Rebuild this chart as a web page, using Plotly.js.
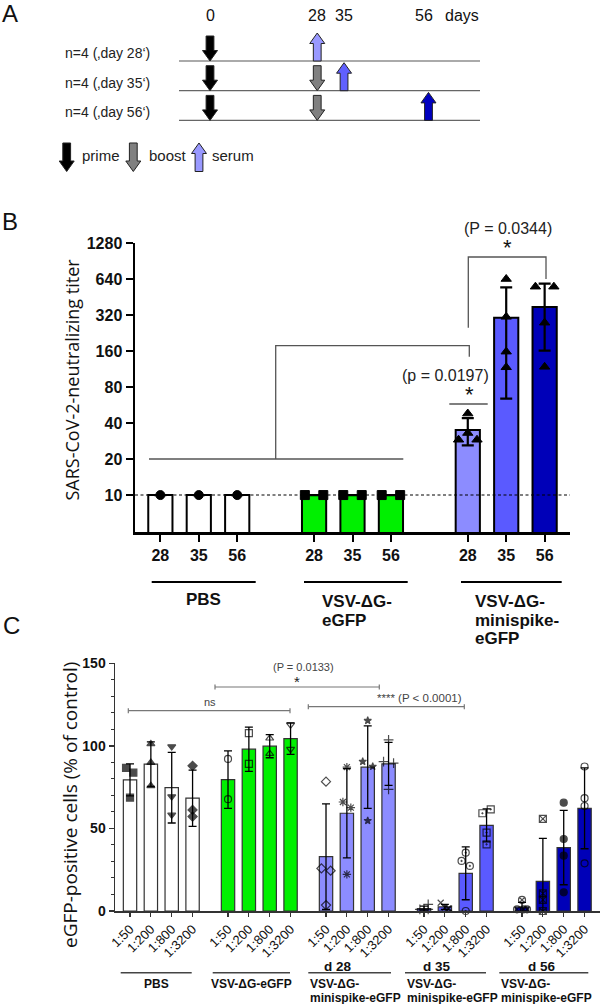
<!DOCTYPE html>
<html><head><meta charset="utf-8">
<script src="https://cdn.plot.ly/plotly-3.0.1.min.js"></script>
<style>html,body{margin:0;padding:0;background:#fff}</style>
</head><body><div id="chart" style="width:601px;height:1004px"></div>
<script>
// ===== DATA =====
// Panel A: schedule
const aDayTicks = [0, 28, 35, 56];
const aRowLabels = ['n=4 (‚day 28‘)', 'n=4 (‚day 35‘)', 'n=4 (‚day 56‘)'];
const aBoostDay = [null, 28, 28];
const aSerumDay = [28, 35, 56];

// Panel B: neutralizing titers
const bDays = ['28', '35', '56'];
const bGroups = ['PBS', 'VSV-ΔG-eGFP', 'VSV-ΔG-minispike-eGFP'];
const bTiter = [[10, 10, 10], [10, 10, 10], [35, 304, 373]];
const bSD = [[0, 0, 0], [0, 0, 0], [9, 240, 212]];
const bPoints = [
  [[10], [10], [10]],
  [[10, 10], [10, 10], [10, 10]],
  [[29, 29, 33, 48], [640, 309, 158, 117], [552, 552, 276, 118]]
];
const bJitter = [
  [[0], [0], [0]],
  [[-0.24, 0.24], [-0.24, 0.24], [-0.24, 0.24]],
  [[-0.24, 0.24, 0, 0], [0, 0, 0, 0], [-0.24, 0.24, 0, 0]]
];

// Panel C: eGFP-positive cells
const cDilutions = ['1:50', '1:200', '1:800', '1:3200'];
const cGroups = ['PBS', 'VSV-ΔG-eGFP', 'd 28', 'd 35', 'd 56'];
const cMean = [
  [79.4, 88.9, 74.7, 68.3],
  [79.6, 98.0, 99.8, 104.4],
  [32.9, 59.2, 87.1, 89.1],
  [1.5, 2.5, 22.8, 51.9],
  [2.4, 18.0, 38.4, 62.2]
];
const cSD = [
  [9.7, 13.5, 21.4, 17.0],
  [17.4, 13.4, 7.0, 9.5],
  [32.0, 27.0, 25.0, 13.0],
  [1.5, 1.5, 16.0, 10.0],
  [2.8, 26.0, 22.5, 24.5]
];
const cPoints = [
  [[86.7, 83.8, 68.7], [101.2, 89.9, 75.8], [99.6, 69.3, 58.2], [87.9, 61.2, 57.2]],
  [[92.1, 67.7], [107.7, 89.1], [104.6, 95.3], [112.7, 98.0]],
  [[78.3, 25.8, 24.4, 3.6], [87.1, 66.0, 62.6, 22.2], [115.3, 90.5, 87.5, 54.7], [103.6, 90.5, 89.5, 73.7]],
  [[1, 1, 1, 4], [5, 2, 1.5, 1.5], [35.3, 30.3, 27.3, 0], [59.2, 61.6, 47.5, 40.4]],
  [[6.7, 1, 1, 1], [55.8, 10.7, 6.7, 0], [65.6, 43.6, 33.5, 11.3], [87.5, 68.3, 63.6, 28.9]]
];
const cJitter = [
  [[-0.19, 0.16, 0], [0, 0, 0], [0, 0, 0], [0, 0, 0]],
  [[0, 0], [0, 0], [0, 0], [0, 0]],
  [[0, -0.22, 0.22, 0], [0, -0.19, 0.19, 0], [0, -0.24, 0.24, 0], [0, -0.24, 0.24, 0]],
  [[-0.2, 0, 0.2, 0.2], [-0.2, 0, 0.15, 0.2], [0, -0.2, 0.2, 0], [-0.2, 0.2, 0, 0]],
  [[0, -0.24, 0.08, 0.24], [0, 0, 0, 0], [0, 0, 0, 0], [0, 0, 0, 0]]
];

// ===== STYLE =====
const bColors = [['#ffffff', '#ffffff', '#ffffff'], ['#00f000', '#00f000', '#00f000'], ['#8c8cff', '#5a5aff', '#0000b8']];
const bSymbols = ['circle', 'square', 'triangle-up'];
const cColors = ['#ffffff', '#00f000', '#8c8cff', '#5a5aff', '#0000b8'];
const cSymbols = [
  ['square', 'triangle-up', 'triangle-down', 'diamond'],
  ['circle-open', 'square-open', 'triangle-up-open', 'triangle-down-open'],
  ['diamond-open', 'asterisk-open', 'star', 'cross-thin-open'],
  ['cross-thin-open', 'x-thin-open', 'circle-open-dot', 'square-open-dot'],
  ['circle-x-open', 'square-x-open', 'circle', 'circle-open']
];
const cSymbolSize = {'star': 5.5, 'asterisk-open': 7, 'cross-thin-open': 7, 'x-thin-open': 6};

const W = 601, H = 1004;
const px = x => x / W;
const py = y => 1 - y / H;
const FONT = 'Liberation Sans, Arial, sans-serif';
const shapes = [], ann = [];

function seg(x0, y0, x1, y1, color, width, dash) {
  shapes.push({type: 'line', xref: 'paper', yref: 'paper', x0: px(x0), y0: py(y0), x1: px(x1), y1: py(y1),
    line: {color: color, width: width, dash: dash || 'solid'}});
}
function pathPx(pts, color, width, fill) {
  const d = pts.map((p, i) => (i ? 'L' : 'M') + px(p[0]).toFixed(5) + ',' + py(p[1]).toFixed(5)).join(' ');
  shapes.push({type: 'path', xref: 'paper', yref: 'paper', path: d + (fill ? ' Z' : ''),
    fillcolor: fill || 'rgba(0,0,0,0)', line: {color: color, width: width}});
}
function txt(x, y, text, size, o) {
  o = o || {};
  ann.push({xref: 'paper', yref: 'paper', x: px(x), y: py(y), text: text, showarrow: false,
    font: {family: o.family || FONT, size: size, color: o.color || '#111'},
    xanchor: o.xanchor || 'center', yanchor: 'middle', textangle: o.angle || 0});
}
function arrow(cx, y0, y1, up, fill) {
  const sw = 3.9, hw = 7.5, hl = 10.5;
  let pts;
  if (!up) pts = [[cx - sw, y0], [cx + sw, y0], [cx + sw, y1 - hl], [cx + hw, y1 - hl], [cx, y1], [cx - hw, y1 - hl], [cx - sw, y1 - hl]];
  else pts = [[cx - sw, y1], [cx + sw, y1], [cx + sw, y0 + hl], [cx + hw, y0 + hl], [cx, y0], [cx - hw, y0 + hl], [cx - sw, y0 + hl]];
  pathPx(pts, '#222', 1, fill);
}

// ===== PANEL A =====
const dayPx = d => 210 + d * 3.83;
txt(10, 14, 'A', 24);
aDayTicks.forEach(d => txt(dayPx(d), 16, String(d), 16));
txt(462, 16, 'days', 16);
const serumColors = ['#9999ff', '#6060ff', '#0000c0'];
aRowLabels.forEach((lab, r) => {
  const ly = 61 + r * 29.7;
  seg(179, ly, 480, ly, r === 0 ? '#aaaaaa' : '#666666', r === 0 ? 1.8 : 1.3);
  txt(63, ly - 8, lab, 14, {xanchor: 'left', color: '#222'});
  arrow(dayPx(0), ly - 25, ly, false, '#000000');
  if (aBoostDay[r] !== null) arrow(dayPx(aBoostDay[r]), ly - 25, ly, false, '#808080');
  arrow(dayPx(aSerumDay[r]) + (r === 2 ? 4 : 0), ly - 28, ly, true, serumColors[r]);
});
arrow(66.7, 143, 171.5, false, '#000000');
txt(80, 156, 'prime', 15, {xanchor: 'left', color: '#222'});
arrow(133.3, 143, 171.5, false, '#808080');
txt(146.5, 156, 'boost', 15, {xanchor: 'left', color: '#222'});
arrow(199, 143, 171.5, true, '#9999ff');
txt(209.5, 156, 'serum', 15, {xanchor: 'left', color: '#222'});

// ===== PANEL B =====
txt(10, 221, 'B', 24);
const bX = [], bY = [], bE = [], bC = [], bTickV = [], bTickT = [];
const bPX = [], bPY = [], bPS = [];
bGroups.forEach((g, gi) => bDays.forEach((d, di) => {
  const x = gi * 4 + di;
  bX.push(x); bY.push(bTiter[gi][di]); bE.push(bSD[gi][di]); bC.push(bColors[gi][di]);
  bTickV.push(x); bTickT.push('<b>' + d + '</b>');
  bPoints[gi][di].forEach((v, k) => { bPX.push(x + bJitter[gi][di][k]); bPY.push(v); bPS.push(bSymbols[gi]); });
}));
seg(135, 495, 570, 495, '#000', 1, '3px,2.5px');
// brackets
pathPx([[149, 459], [403.3, 459]], '#555', 1.3);
pathPx([[275.7, 459], [275.7, 345.7], [469.3, 345.7], [469.3, 356.7]], '#555', 1.3);
pathPx([[449.3, 404], [487.7, 404]], '#555', 1.3);
pathPx([[468.3, 327.7], [468.3, 257], [546, 257], [546, 279]], '#555', 1.3);
txt(445.8, 375, '(p = 0.0197)', 16, {color: '#222'});
txt(469, 394, '*', 22, {color: '#111'});
txt(508, 228.5, '(P = 0.0344)', 16, {color: '#222'});
txt(507, 247, '*', 22, {color: '#111'});
// group labels
seg(151.7, 582, 255.7, 582, '#000', 2);
txt(203.7, 599.5, '<b>PBS</b>', 17);
seg(304, 582, 407.7, 582, '#000', 2);
txt(320, 601, '<b>VSV-ΔG-</b>', 17, {xanchor: 'left'});
txt(320, 620, '<b>eGFP</b>', 17, {xanchor: 'left'});
seg(461, 582, 561.7, 582, '#000', 2);
txt(473.3, 601, '<b>VSV-ΔG-</b>', 17, {xanchor: 'left'});
txt(473.3, 620, '<b>minispike-</b>', 17, {xanchor: 'left'});
txt(473.3, 638.5, '<b>eGFP</b>', 17, {xanchor: 'left'});
txt(71.5, 380, 'SARS-CoV-2-neutralizing titer', 18, {family: 'Open Sans, sans-serif', angle: -90, color: '#111'});

// ===== PANEL C =====
txt(11.5, 625, 'C', 24);
const cX = [], cY = [], cE = [], cC = [], cTickV = [], cTickT = [];
const cPX = [], cPY = [], cPS = [], cSZ = [];
cGroups.forEach((g, gi) => cDilutions.forEach((dl, di) => {
  const x = gi * 4.7 + di;
  cX.push(x); cY.push(cMean[gi][di]); cE.push(cSD[gi][di]); cC.push(cColors[gi]);
  cTickV.push(x); cTickT.push(dl);
  cPoints[gi][di].forEach((v, k) => {
    const s = cSymbols[gi][di];
    cPX.push(x + cJitter[gi][di][k]); cPY.push(v); cPS.push(s); cSZ.push(cSymbolSize[s] || 7);
  });
}));
function bracket(x0, x1, y) {
  pathPx([[x0, y - 2.5], [x0, y + 2.5]], '#777', 1.2);
  pathPx([[x0, y], [x1, y]], '#777', 1.2);
  pathPx([[x1, y - 2.5], [x1, y + 2.5]], '#777', 1.2);
}
bracket(128.3, 290, 710.7);
txt(209.5, 702, 'ns', 11, {color: '#444'});
bracket(215, 379.3, 687);
txt(303.5, 666.7, '(P = 0.0133)', 11, {color: '#444'});
txt(296.7, 681, '*', 15, {color: '#222'});
bracket(308.3, 464.3, 706.7);
txt(464, 698.3, '**** (P < 0.0001)', 11.5, {color: '#444', xanchor: 'right'});
// group labels
const cLineY = 972.7;
seg(120.7, cLineY, 191.7, cLineY, '#444', 1.6);
txt(156, 983.5, '<b>PBS</b>', 12);
seg(212.7, cLineY, 290, cLineY, '#444', 1.6);
txt(251.3, 983.5, '<b>VSV-ΔG-eGFP</b>', 12);
[[308.3, 391, 338.3, 'd 28'], [405, 486, 436.7, 'd 35'], [499.3, 588.3, 541.7, 'd 56']].forEach(s => {
  seg(s[0], cLineY, s[1], cLineY, '#444', 1.6);
  txt(s[2], 966, '<b>' + s[3] + '</b>', 13.5);
  txt(s[0], 983.5, '<b>VSV-ΔG-</b>', 12, {xanchor: 'left'});
  txt(s[0], 997.5, '<b>minispike-eGFP</b>', 12, {xanchor: 'left'});
});
txt(70, 805, 'eGFP-positive cells (% of control)', 19, {family: 'Open Sans, sans-serif', angle: -90, color: '#111'});

// ===== TRACES =====
const traces = [
  {type: 'bar', x: bX, y: bY, width: 0.63, xaxis: 'x', yaxis: 'y',
   marker: {color: bC, line: {color: '#000', width: 2}},
   error_y: {type: 'data', array: bE, visible: true, color: '#000', thickness: 2.2, width: 6},
   hoverinfo: 'skip'},
  {type: 'scatter', mode: 'markers', x: bPX, y: bPY, xaxis: 'x', yaxis: 'y',
   marker: {symbol: bPS, size: 9, color: '#000', line: {color: '#000', width: 1}}, hoverinfo: 'skip'},
  {type: 'bar', x: cX, y: cY, width: 0.64, xaxis: 'x2', yaxis: 'y2',
   marker: {color: cC, line: {color: '#333', width: 1.2}},
   error_y: {type: 'data', array: cE, visible: true, color: '#000', thickness: 1.3, width: 4},
   hoverinfo: 'skip'},
  {type: 'scatter', mode: 'markers', x: cPX, y: cPY, xaxis: 'x2', yaxis: 'y2', cliponaxis: false,
   marker: {symbol: cPS, size: cSZ, color: '#000', line: {color: '#000', width: 1.2}}, hoverinfo: 'skip'}
];

const bTicks = [10, 20, 40, 80, 160, 320, 640, 1280];
const layout = {
  width: W, height: H, margin: {l: 0, r: 0, t: 0, b: 0}, showlegend: false,
  paper_bgcolor: '#fff', plot_bgcolor: 'rgba(0,0,0,0)',
  xaxis: {domain: [px(135), px(570)], range: [-0.66, 10.66], anchor: 'y', showgrid: false, zeroline: false,
    showline: true, linecolor: '#000', linewidth: 2.5, ticks: 'outside', ticklen: 7, tickwidth: 2, tickcolor: '#000',
    tickmode: 'array', tickvals: bTickV, ticktext: bTickT, tickfont: {family: FONT, size: 16, color: '#111'}},
  yaxis: {domain: [py(532), py(243)], type: 'log', range: [Math.log10(4.91), Math.log10(1280)], anchor: 'x',
    showgrid: false, zeroline: false, showline: true, linecolor: '#000', linewidth: 2.5,
    ticks: 'outside', ticklen: 7, tickwidth: 2, tickcolor: '#000', tickmode: 'array',
    tickvals: bTicks, ticktext: bTicks.map(t => '<b>' + t + '</b>'), tickfont: {family: FONT, size: 16, color: '#111'}},
  xaxis2: {domain: [px(115), px(600)], range: [-0.72, 22.54], anchor: 'y2', showgrid: false, zeroline: false,
    showline: true, linecolor: '#333', linewidth: 1.5, ticks: 'outside', ticklen: 4, tickwidth: 1.2, tickcolor: '#333',
    tickmode: 'array', tickvals: cTickV, ticktext: cTickT, tickangle: -45, tickfont: {family: FONT, size: 13, color: '#111'}},
  yaxis2: {domain: [py(911), py(663.3)], range: [0, 150], anchor: 'x2', showgrid: false, zeroline: false,
    showline: true, linecolor: '#333', linewidth: 1.5, ticks: 'outside', ticklen: 5, tickwidth: 1.5, tickcolor: '#333',
    tickmode: 'array', tickvals: [0, 50, 100, 150], ticktext: ['<b>0</b>', '<b>50</b>', '<b>100</b>', '<b>150</b>'],
    tickfont: {family: FONT, size: 14, color: '#111'},
    minor: {tick0: 0, dtick: 10, ticks: 'outside', ticklen: 3, tickwidth: 1, tickcolor: '#333'}},
  shapes: shapes, annotations: ann
};
Plotly.newPlot('chart', traces, layout, {displayModeBar: false, staticPlot: true});
</script>
</body></html>
